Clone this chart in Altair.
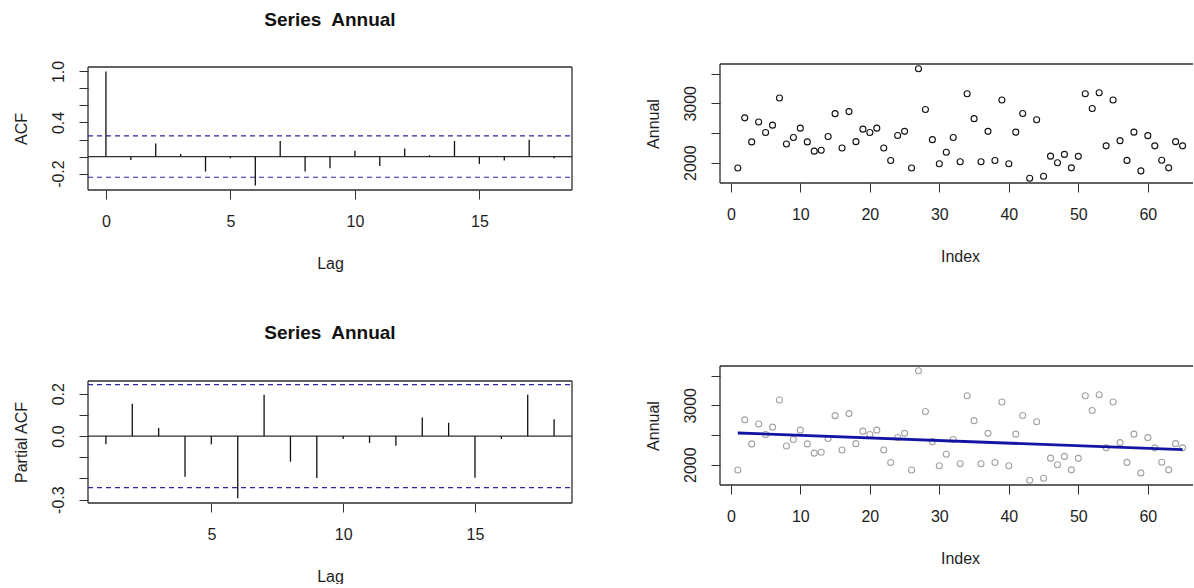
import altair as alt
import pandas as pd

FONT = "Liberation Sans"
TEXT = "#1e1e1e"
LINE = "#2e2e2e"
BLUE = "#2a2a9e"
TREND = "#1414a4"

# ---------------- data ----------------
ACF_LAGS = list(range(0, 19))
ACF_VALUES = [1.0, -0.04, 0.153, 0.03, -0.176, -0.02, -0.341, 0.184, -0.176, -0.137,
              0.067, -0.11, 0.094, 0.016, 0.184, -0.086, -0.047, 0.196, -0.02]
PACF_LAGS = list(range(1, 19))
PACF_VALUES = [-0.039, 0.153, 0.038, -0.192, -0.039, -0.293, 0.195, -0.121, -0.198,
               -0.014, -0.033, -0.046, 0.088, 0.063, -0.197, -0.014, 0.195, 0.079]
CONF_LIMIT = 0.243

INDEX = list(range(1, 66))
ANNUAL = [1910, 2755, 2350, 2685, 2508, 2632, 3090, 2315, 2424, 2582,
          2350, 2194, 2210, 2441, 2826, 2247, 2860, 2354, 2565, 2508,
          2582, 2247, 2036, 2458, 2528, 1910, 3582, 2896, 2388, 1983,
          2177, 2424, 2017, 3160, 2742, 2017, 2528, 2036, 3056, 1983,
          2514, 2828, 1739, 2722, 1772, 2110, 2000, 2140, 1913, 2107,
          3160, 2913, 3177, 2284, 3056, 2371, 2039, 2514, 1862, 2455,
          2284, 2042, 1913, 2354, 2284]
TREND_INDEX = [1, 65]
TREND_ANNUAL = [2534, 2253]

TITLE_TEXT = "Series\u00a0 Annual"
ACF_X_TICKS = [0, 5, 10, 15]
PACF_X_TICKS = [5, 10, 15]
INDEX_TICKS = [0, 10, 20, 30, 40, 50, 60]
ACF_Y_TICKS = [-0.2, 0.0, 0.2, 0.4, 0.6, 0.8, 1.0]
ACF_Y_LABELS = [(1.0, "1.0"), (0.4, "0.4"), (-0.2, "-0.2")]
PACF_Y_TICKS = [-0.3, -0.2, -0.1, 0.0, 0.1, 0.2]
PACF_Y_LABELS = [(0.2, "0.2"), (0.0, "0.0"), (-0.3, "-0.3")]
ANNUAL_Y_TICKS = [2000, 2500, 3000, 3500]
ANNUAL_Y_LABELS = [(2000, "2000"), (3000, "3000")]

# ---------------- layout ----------------
PAGE_LEFT = 88
ROW1_TOP = 64
COL_GAP = 148
ROW_GAP = 176
LEFT_W = 484
RIGHT_W = 473
ACF_BOX_TOP, ACF_H = 3, 126
PACF_BOX_TOP, PACF_H = 15, 137
SC_H = 119


def label_expr(pairs):
    expr = "''"
    for v, s in reversed(pairs):
        expr = f"datum.value === {v} ? '{s}' : {expr}"
    return expr


def x_axis(ticks, title, center_x):
    return alt.Axis(values=ticks, format="d", title=title, domain=False, grid=False,
                    ticks=True, tickSize=9, tickWidth=1, tickColor=LINE,
                    labelFont=FONT, labelFontSize=16, labelColor=TEXT, labelAngle=0,
                    labelAlign="center", labelBaseline="alphabetic", labelPadding=27.7,
                    labelFlush=False, labelOverlap=False, labelBound=False,
                    titleFont=FONT, titleFontSize=16, titleFontWeight="normal",
                    titleColor=TEXT, titleX=center_x, titleY=78, titleAlign="center",
                    titleBaseline="alphabetic", titleAngle=0)


def y_axis(ticks, pairs, title, center_y):
    return alt.Axis(values=ticks, labelExpr=label_expr(pairs), title=title,
                    domain=False, grid=False, ticks=True, tickSize=9, tickWidth=1,
                    tickColor=LINE, labelFont=FONT, labelFontSize=16, labelColor=TEXT,
                    labelAngle=270, labelAlign="center", labelBaseline="alphabetic",
                    labelPadding=15.3, labelFlush=False, labelOverlap=False,
                    labelBound=False, titleFont=FONT, titleFontSize=16,
                    titleFontWeight="normal", titleColor=TEXT, titleX=-61.75,
                    titleY=center_y, titleAngle=270, titleAlign="center",
                    titleBaseline="alphabetic")


ONE = pd.DataFrame({"k": [0]})


def frame(width, top, bottom, right=True):
    base = alt.Chart(ONE).mark_rule(color=LINE, strokeWidth=1.3)
    parts = [
        base.encode(x=alt.value(0), x2=alt.value(width), y=alt.value(top)),
        base.encode(x=alt.value(0), x2=alt.value(width), y=alt.value(bottom)),
        base.encode(x=alt.value(0), y=alt.value(top), y2=alt.value(bottom)),
    ]
    if right:
        parts.append(base.encode(x=alt.value(width), y=alt.value(top), y2=alt.value(bottom)))
    return parts


def corr_panel(lags, values, x_dom, y_dom, box_top, h, x_ticks, y_ticks, y_labels,
               y_title, title_offset):
    df = pd.DataFrame({"lag": lags, "r": values, "base": [0.0] * len(lags)})
    xs = alt.Scale(domain=x_dom, nice=False, zero=False)
    ys = alt.Scale(domain=y_dom, range=[h, box_top], nice=False, zero=False)
    yax = y_axis(y_ticks, y_labels, y_title, (box_top + h) / 2)
    ci = alt.Chart(pd.DataFrame({"r": [CONF_LIMIT, -CONF_LIMIT]})).mark_rule(
        color=BLUE, strokeWidth=1.2, strokeDash=[5, 4]).encode(
        y=alt.Y("r:Q", scale=ys, axis=yax), x=alt.value(0), x2=alt.value(LEFT_W))
    zero = alt.Chart(pd.DataFrame({"r": [0.0]})).mark_rule(
        color=LINE, strokeWidth=1.3).encode(
        y=alt.Y("r:Q", scale=ys, axis=yax), x=alt.value(0), x2=alt.value(LEFT_W))
    bars = alt.Chart(df).mark_rule(color="#111111", strokeWidth=1.3).encode(
        x=alt.X("lag:Q", scale=xs, axis=x_axis(x_ticks, "Lag", LEFT_W / 2)),
        y=alt.Y("r:Q", scale=ys, axis=yax),
        y2="base:Q",
    )
    return alt.layer(*frame(LEFT_W, box_top, h), ci, zero, bars).properties(
        width=LEFT_W, height=h,
        title=alt.Title(TITLE_TEXT, font=FONT, fontSize=19, fontWeight="bold",
                        color="#111111", anchor="middle", frame="group",
                        baseline="alphabetic", offset=title_offset))


acf = corr_panel(ACF_LAGS, ACF_VALUES, [-0.72, 18.72], [-0.393, 1.052],
                 ACF_BOX_TOP, ACF_H, ACF_X_TICKS, ACF_Y_TICKS, ACF_Y_LABELS,
                 "ACF", 14.9)
pacf = corr_panel(PACF_LAGS, PACF_VALUES, [0.32, 18.68], [-0.316, 0.26],
                  PACF_BOX_TOP, PACF_H, PACF_X_TICKS, PACF_Y_TICKS, PACF_Y_LABELS,
                  "Partial ACF", 8.3)

sc_df = pd.DataFrame({"index": INDEX, "annual": ANNUAL})
trend_df = pd.DataFrame({"index": TREND_INDEX, "annual": TREND_ANNUAL})
sc_x = alt.Scale(domain=[-1.56, 66.5], nice=False, zero=False)
sc_y = alt.Scale(domain=[1658, 3662], range=[SC_H, 0], nice=False, zero=False)
SC_XAX = x_axis(INDEX_TICKS, "Index", 240)
SC_YAX = y_axis(ANNUAL_Y_TICKS, ANNUAL_Y_LABELS, "Annual", SC_H / 2)


def scatter(color):
    return alt.Chart(sc_df).mark_point(shape="circle", filled=False, size=36,
                                       strokeWidth=1.1, color=color, opacity=1).encode(
        x=alt.X("index:Q", scale=sc_x, axis=SC_XAX),
        y=alt.Y("annual:Q", scale=sc_y, axis=SC_YAX),
    )


# invisible anchor pinning the page origin (top-left corner of the page)
ORIGIN_X = -(PAGE_LEFT + LEFT_W + COL_GAP)
anchor = alt.Chart(ONE).mark_rule(opacity=0, strokeOpacity=0, strokeWidth=0).encode(
    x=alt.value(ORIGIN_X), x2=alt.value(ORIGIN_X + 1), y=alt.value(-ROW1_TOP))

sc1 = alt.layer(anchor, *frame(RIGHT_W, 0, SC_H, right=False), scatter("#111111")).properties(
    width=RIGHT_W, height=SC_H)

trend = alt.Chart(trend_df).mark_line(color=TREND, strokeWidth=2.8).encode(
    x=alt.X("index:Q", scale=sc_x, axis=SC_XAX),
    y=alt.Y("annual:Q", scale=sc_y, axis=SC_YAX))
sc2 = alt.layer(*frame(RIGHT_W, 0, SC_H, right=False), scatter("#a3a3a3"), trend).properties(
    width=RIGHT_W, height=SC_H)

chart = alt.concat(acf, sc1, pacf, sc2, columns=2,
                   spacing={"row": ROW_GAP, "column": COL_GAP},
                   bounds="flush", align="each").properties(
    padding=0, background="white").configure_view(stroke=None)

chart.save("out.html", embed_options={"renderer": "svg", "actions": False})
